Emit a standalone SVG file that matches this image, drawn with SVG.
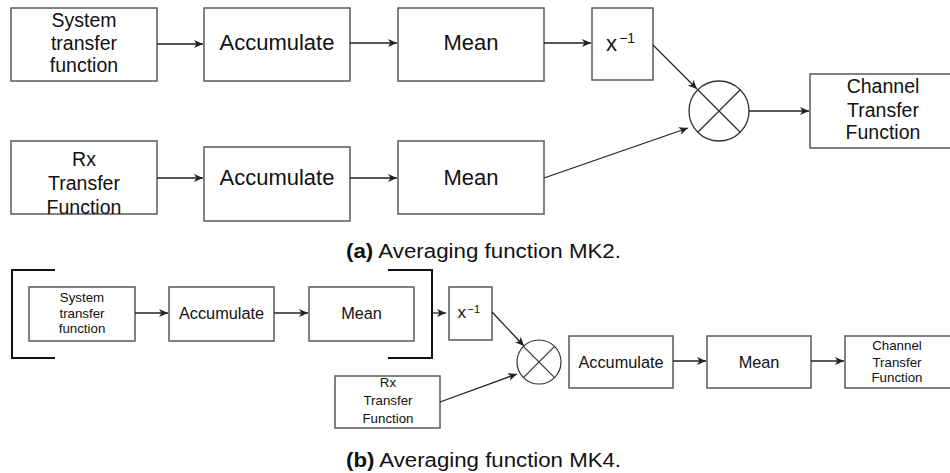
<svg xmlns="http://www.w3.org/2000/svg" width="950" height="473" viewBox="0 0 950 473">
<style>
  .box { fill: #ffffff; stroke: #5a5a5a; stroke-width: 1.5; }
  .t { font-family: "Liberation Sans", Arial, sans-serif; fill: #111; text-anchor: middle; }
  .ts { font-family: "Liberation Sans", Arial, sans-serif; fill: #111; text-anchor: start; }
  .l { font-size: 22px; }
  .m { font-size: 19.5px; }
  .s { font-size: 16.3px; }
  .xs { font-size: 13.3px; }
  .c { stroke: #222; stroke-width: 1.3; fill: none; }
  .cap { font-family: "Liberation Sans", Arial, sans-serif; font-size: 20px; fill: #111; }
  .br { stroke: #111; stroke-width: 2; fill: none; }
</style>
<defs>
  <marker id="arr" markerWidth="10" markerHeight="10" refX="9" refY="5" orient="auto" markerUnits="userSpaceOnUse">
    <path d="M0,1 L9,5 L0,9 L2.5,5 Z" fill="#222"/>
  </marker>
</defs>
<rect width="950" height="473" fill="#ffffff"/>

<!-- (a) -->
<g id="a-system">
  <rect class="box" x="11" y="8" width="146" height="73"/>
  <text class="t m" x="84" y="27">System</text>
  <text class="t m" x="84" y="49.5">transfer</text>
  <text class="t m" x="84" y="72">function</text>
</g>
<g id="a-acc1">
  <rect class="box" x="204" y="8" width="146" height="73"/>
  <text class="t l" x="277" y="50">Accumulate</text>
</g>
<g id="a-mean1">
  <rect class="box" x="398" y="8" width="146" height="73"/>
  <text class="t l" x="471" y="50">Mean</text>
</g>
<g id="a-inv">
  <rect class="box" x="592" y="8" width="61" height="72"/>
  <text class="ts" x="606" y="51" style="font-size:22px">x</text>
  <text class="ts" x="619" y="43" style="font-size:14px">−1</text>
</g>
<g id="a-mult">
  <circle cx="719" cy="111" r="30" fill="#fff" stroke="#333" stroke-width="1.3"/>
  <line x1="697.8" y1="89.8" x2="740.2" y2="132.2" stroke="#333" stroke-width="1.3"/>
  <line x1="740.2" y1="89.8" x2="697.8" y2="132.2" stroke="#333" stroke-width="1.3"/>
</g>
<g id="a-channel">
  <rect class="box" x="810" y="74" width="150" height="74"/>
  <text class="t m" x="883" y="93">Channel</text>
  <text class="t m" x="883" y="117">Transfer</text>
  <text class="t m" x="883" y="139">Function</text>
</g>
<g id="a-rx">
  <rect class="box" x="11" y="141" width="146" height="73"/>
  <text class="t m" x="84" y="166">Rx</text>
  <text class="t m" x="84" y="190">Transfer</text>
  <text class="t m" x="84" y="214">Function</text>
</g>
<g id="a-acc2">
  <rect class="box" x="204" y="147" width="146" height="74"/>
  <text class="t l" x="277" y="185">Accumulate</text>
</g>
<g id="a-mean2">
  <rect class="box" x="398" y="141" width="146" height="73"/>
  <text class="t l" x="471" y="185">Mean</text>
</g>

<!-- (b) -->
<g id="b-bracket">
  <polyline class="br" points="55,270 12,270 12,358 55,358"/>
  <polyline class="br" points="388,270 432,270 432,358 388,358"/>
</g>
<g id="b-system">
  <rect class="box" x="29" y="287" width="106" height="54"/>
  <text class="t xs" x="82" y="301.5">System</text>
  <text class="t xs" x="82" y="317.5">transfer</text>
  <text class="t xs" x="82" y="333">function</text>
</g>
<g id="b-acc1">
  <rect class="box" x="169" y="287" width="105" height="54"/>
  <text class="t s" x="221.5" y="319">Accumulate</text>
</g>
<g id="b-mean1">
  <rect class="box" x="309" y="287" width="105" height="54"/>
  <text class="t s" x="361.5" y="319">Mean</text>
</g>
<g id="b-inv">
  <rect class="box" x="449" y="287" width="43" height="53"/>
  <text class="ts" x="457.5" y="318" style="font-size:17px">x</text>
  <text class="ts" x="467.5" y="312.5" style="font-size:11px">−1</text>
</g>
<g id="b-mult">
  <circle cx="539" cy="362" r="22" fill="#fff" stroke="#333" stroke-width="1.2"/>
  <line x1="523.4" y1="346.4" x2="554.6" y2="377.6" stroke="#333" stroke-width="1.2"/>
  <line x1="554.6" y1="346.4" x2="523.4" y2="377.6" stroke="#333" stroke-width="1.2"/>
</g>
<g id="b-rx">
  <rect class="box" x="335" y="376" width="105" height="52"/>
  <text class="t xs" x="388" y="386.5">Rx</text>
  <text class="t xs" x="388" y="405">Transfer</text>
  <text class="t xs" x="388" y="423">Function</text>
</g>
<g id="b-acc2">
  <rect class="box" x="569" y="336" width="104" height="52"/>
  <text class="t s" x="621" y="368">Accumulate</text>
</g>
<g id="b-mean2">
  <rect class="box" x="707" y="336" width="104" height="52"/>
  <text class="t s" x="759" y="368">Mean</text>
</g>
<g id="b-channel">
  <rect class="box" x="845" y="336" width="120" height="52"/>
  <text class="t xs" x="897" y="350">Channel</text>
  <text class="t xs" x="897" y="366.5">Transfer</text>
  <text class="t xs" x="897" y="382">Function</text>
</g>

<g id="connectors">
  <line class="c" x1="157" y1="44" x2="203" y2="44" marker-end="url(#arr)"/>
  <line class="c" x1="350" y1="43" x2="397" y2="43" marker-end="url(#arr)"/>
  <line class="c" x1="544" y1="43" x2="591" y2="43" marker-end="url(#arr)"/>
  <line class="c" x1="653" y1="45" x2="697" y2="89" marker-end="url(#arr)"/>
  <line class="c" x1="544" y1="178" x2="688" y2="128" marker-end="url(#arr)"/>
  <line class="c" x1="749" y1="111" x2="809" y2="111" marker-end="url(#arr)"/>
  <line class="c" x1="157" y1="178" x2="203" y2="178" marker-end="url(#arr)"/>
  <line class="c" x1="350" y1="178" x2="397" y2="178" marker-end="url(#arr)"/>

  <line class="c" x1="135" y1="313" x2="168" y2="313" marker-end="url(#arr)"/>
  <line class="c" x1="274" y1="313" x2="308" y2="313" marker-end="url(#arr)"/>
  <line class="c" x1="432" y1="313" x2="446" y2="313" marker-end="url(#arr)"/>
  <line class="c" x1="492" y1="312" x2="524" y2="346" marker-end="url(#arr)"/>
  <line class="c" x1="440" y1="402" x2="517" y2="374" marker-end="url(#arr)"/>
  <line class="c" x1="673" y1="361" x2="706" y2="361" marker-end="url(#arr)"/>
  <line class="c" x1="811" y1="361" x2="844" y2="361" marker-end="url(#arr)"/>
</g>

<text class="cap" x="346" y="258" textLength="275" lengthAdjust="spacingAndGlyphs"><tspan font-weight="bold">(a)</tspan> Averaging function MK2.</text>
<text class="cap" x="346" y="467" textLength="275" lengthAdjust="spacingAndGlyphs"><tspan font-weight="bold">(b)</tspan> Averaging function MK4.</text>
</svg>
